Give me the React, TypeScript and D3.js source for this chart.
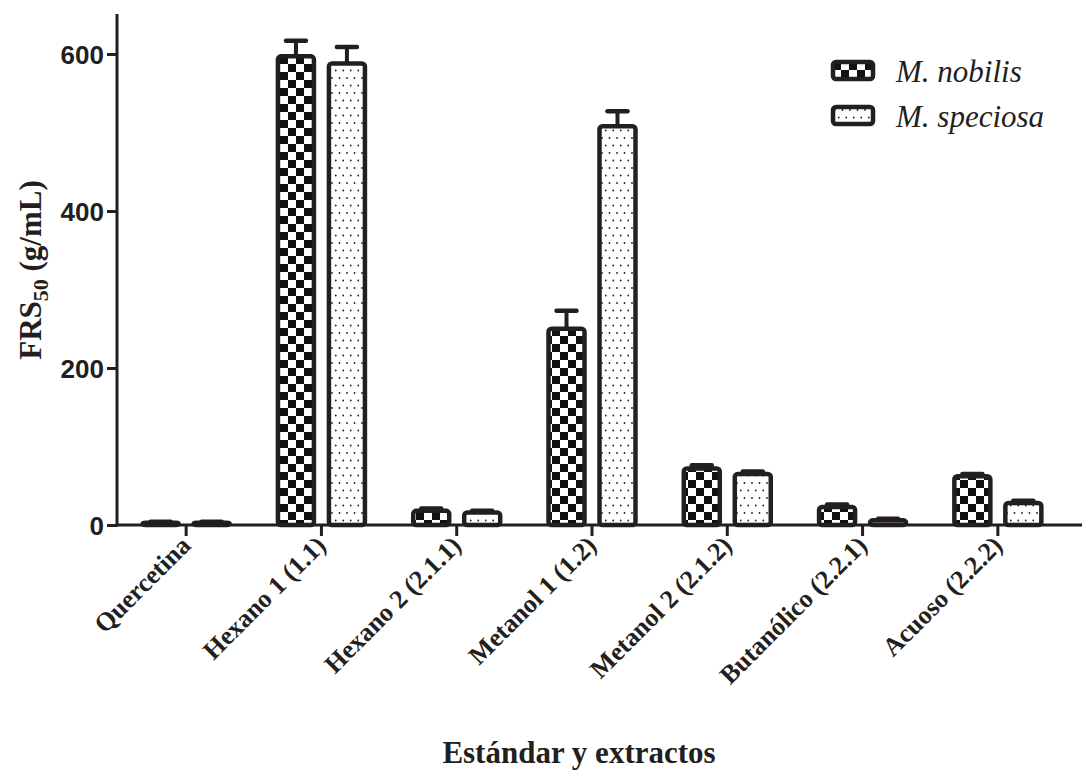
import React, { useEffect, useRef } from 'react';
import * as d3 from 'd3';

const categories = ['Quercetina', 'Hexano 1 (1.1)', 'Hexano 2 (2.1.1)', 'Metanol 1 (1.2)', 'Metanol 2 (2.1.2)', 'Butanólico (2.2.1)', 'Acuoso (2.2.2)'];
const seriesNames = ['M. nobilis', 'M. speciosa'];
const nobilisValues = [3, 597, 18, 250, 72, 23, 62];
const nobilisErrors = [1, 20, 3, 23, 4, 3, 3];
const speciosaValues = [3, 588, 16, 508, 65, 6, 28];
const speciosaErrors = [1, 21, 2, 19, 3, 2, 3];
const yTicks = [0, 200, 400, 600];

const serif = '"Liberation Serif", "Times New Roman", serif';
const serifItalic = '"Times New Roman", "Liberation Serif", "DejaVu Serif", serif';

const App = () => {
  const ref = useRef<SVGSVGElement>(null);

  useEffect(() => {
    const width = 1082;
    const height = 771;
    const svg = d3.select(ref.current).attr('width', width).attr('height', height);
    svg.selectAll('*').remove();

    const defs = svg.append('defs');
    // checkerboard for M. nobilis
    const chk = defs.append('pattern').attr('id', 'chk').attr('patternUnits', 'userSpaceOnUse')
      .attr('width', 16).attr('height', 16);
    chk.append('rect').attr('width', 16).attr('height', 16).attr('fill', '#fff');
    chk.append('rect').attr('width', 8).attr('height', 8).attr('fill', '#111');
    chk.append('rect').attr('x', 8).attr('y', 8).attr('width', 8).attr('height', 8).attr('fill', '#111');
    // dots for M. speciosa
    const dots = defs.append('pattern').attr('id', 'dots').attr('patternUnits', 'userSpaceOnUse')
      .attr('width', 15).attr('height', 15);
    dots.append('rect').attr('width', 15).attr('height', 15).attr('fill', '#fff');
    [[2, 3], [9.5, 3], [5.75, 10.5], [13.25, 10.5]].forEach(([cx, cy]) =>
      dots.append('circle').attr('cx', cx).attr('cy', cy).attr('r', 0.9).attr('fill', '#222'));

    const fills = ['url(#chk)', 'url(#dots)'];

    const x = d3.scaleBand<string>().domain(categories).range([118.5, 1065.5])
      .paddingInner(0.357).paddingOuter(0.1785);
    const xs = d3.scaleBand<string>().domain(seriesNames).range([0, x.bandwidth()]).paddingInner(0.294);
    const y = d3.scaleLinear().domain([0, 600]).range([525, 54]);

    const data = categories.flatMap((c, i) => [
      { c, s: seriesNames[0], v: nobilisValues[i], e: nobilisErrors[i], k: 0 },
      { c, s: seriesNames[1], v: speciosaValues[i], e: speciosaErrors[i], k: 1 },
    ]);

    const g = svg.append('g');
    const bw = xs.bandwidth();

    // error bars (behind bars)
    g.selectAll('.err').data(data).enter().append('g').each(function (d) {
      const cx = (x(d.c) as number) + (xs(d.s) as number) + bw / 2;
      const sel = d3.select(this);
      sel.append('line').attr('x1', cx).attr('x2', cx).attr('y1', y(d.v)).attr('y2', y(d.v + d.e))
        .attr('stroke', '#231f20').attr('stroke-width', 4);
      sel.append('line').attr('x1', cx - 10).attr('x2', cx + 10).attr('y1', y(d.v + d.e)).attr('y2', y(d.v + d.e))
        .attr('stroke', '#231f20').attr('stroke-width', 4.5).attr('stroke-linecap', 'round');
    });

    g.selectAll('.bar').data(data).enter().append('rect')
      .attr('x', d => (x(d.c) as number) + (xs(d.s) as number))
      .attr('y', d => y(d.v))
      .attr('width', bw)
      .attr('height', d => y(0) - y(d.v))
      .attr('rx', 3)
      .attr('fill', d => fills[d.k])
      .attr('stroke', '#231f20')
      .attr('stroke-width', 4.5);

    // y axis
    const yAxis = svg.append('g').attr('transform', 'translate(117,0)')
      .call(d3.axisLeft(y).tickValues(yTicks).tickSize(10).tickPadding(3).tickFormat(d3.format('d')));
    yAxis.select('.domain').remove();
    yAxis.selectAll('.tick line').attr('stroke', '#231f20').attr('stroke-width', 3);
    yAxis.selectAll('.tick text').attr('font-family', '"Liberation Sans", Arial, sans-serif')
      .attr('font-weight', 'bold').attr('font-size', 26).attr('fill', '#231f20').attr('dy', '0.36em');
    svg.append('line').attr('x1', 117).attr('x2', 117).attr('y1', 14).attr('y2', 526.5)
      .attr('stroke', '#231f20').attr('stroke-width', 3);

    // x axis
    const xAxis = svg.append('g').attr('transform', 'translate(0,525)')
      .call(d3.axisBottom(x).tickSize(11).tickFormat(() => ''));
    xAxis.select('.domain').remove();
    xAxis.selectAll('.tick line').attr('stroke', '#231f20').attr('stroke-width', 3);
    svg.append('line').attr('x1', 115.5).attr('x2', 1082).attr('y1', 525).attr('y2', 525)
      .attr('stroke', '#231f20').attr('stroke-width', 3);

    svg.append('g').selectAll('text').data(categories).enter().append('text')
      .attr('transform', d => `translate(${(x(d) as number) + x.bandwidth() / 2 + 6},547) rotate(-45)`)
      .attr('text-anchor', 'end')
      .attr('font-family', serif)
      .attr('font-weight', 'bold').attr('font-size', 26).attr('fill', '#231f20')
      .text(d => d);

    // axis titles
    const yt = svg.append('text').attr('transform', 'translate(41,270) rotate(-90)')
      .attr('text-anchor', 'middle')
      .attr('font-family', serif)
      .attr('font-weight', 'bold').attr('font-size', 31).attr('fill', '#231f20');
    yt.append('tspan').text('FRS');
    yt.append('tspan').attr('font-size', 22).attr('dy', 7).text('50');
    yt.append('tspan').attr('dy', -7).text(' (g/mL)');

    svg.append('text').attr('x', 579).attr('y', 763).attr('text-anchor', 'middle')
      .attr('font-family', serif)
      .attr('font-weight', 'bold').attr('font-size', 31).attr('fill', '#231f20')
      .text('Estándar y extractos');

    // legend
    const lg = svg.append('g').attr('transform', 'translate(833,62)');
    seriesNames.forEach((s, i) => {
      lg.append('rect').attr('x', 0).attr('y', i * 45).attr('width', 40).attr('height', 17).attr('rx', 3)
        .attr('fill', fills[i]).attr('stroke', '#231f20').attr('stroke-width', 4.5);
      lg.append('text').attr('x', 63).attr('y', i * 45 + 20)
        .attr('font-family', serifItalic)
        .attr('font-style', 'italic').attr('font-size', 31).attr('fill', '#231f20').text(s);
    });
  }, []);

  return <svg ref={ref} style={{ position: 'absolute', left: 0, top: 0 }}></svg>;
};

export default App;
